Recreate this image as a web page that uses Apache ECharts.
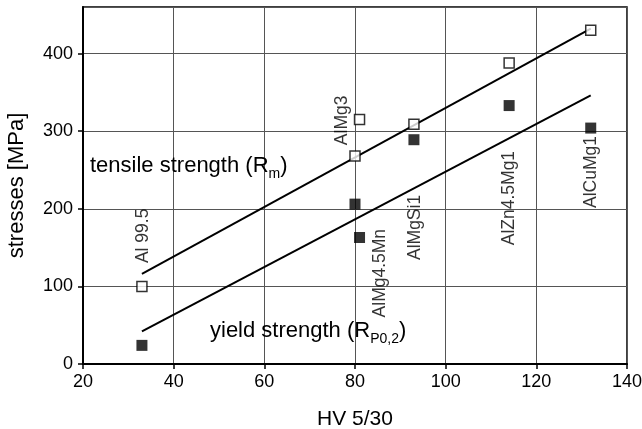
<!DOCTYPE html>
<html>
<head>
<meta charset="utf-8">
<script src="https://cdn.jsdelivr.net/npm/echarts@6/dist/echarts.min.js"></script>
<style>
  html, body { margin: 0; padding: 0; background: #fff; }
  #chart { width: 642px; height: 429px; }
</style>
</head>
<body>
<div id="chart"></div>
<script>
// Hardness HV 5/30 vs. strength of aluminium alloys
const tensilePoints = [[33, 100], [80, 268], [81, 315], [93, 309], [114, 388], [132, 430]];
const yieldPoints   = [[33, 24], [80, 206], [81, 163], [93, 289], [114, 333], [132, 304]];
// Linear fit lines (end points)
const tensileFit = [[33, 116], [132, 432]];
const yieldFit   = [[33, 42], [132, 346]];
// Alloy names and where their vertical labels start
const alloyNames  = ['Al 99.5', 'AlMg3', 'AlMg4.5Mn', 'AlMgSi1', 'AlZn4.5Mg1', 'AlCuMg1'];
const alloyAnchor = [[33.2, 130], [77.2, 282], [85.6, 60], [93.3, 134], [114.0, 153], [132.1, 201]];
const xTicks = [20, 40, 60, 80, 100, 120, 140];
const yTicks = [0, 100, 200, 300, 400];

const FONT = '"Liberation Sans", Arial, Helvetica, sans-serif';
const chart = echarts.init(document.getElementById('chart'), null, { renderer: 'canvas' });

const option = {
  backgroundColor: '#fff',
  animation: false,
  grid: {
    left: 83, right: 15, top: 7, bottom: 65,
    outerBoundsMode: 'none', containLabel: false,
    show: true, borderColor: '#000', borderWidth: 1.5
  },
  xAxis: {
    type: 'value', min: xTicks[0], max: xTicks[xTicks.length - 1], interval: 20,
    name: 'HV 5/30', nameLocation: 'middle', nameGap: 45,
    nameTextStyle: { fontFamily: FONT, fontSize: 21, color: '#000' },
    axisLine: { show: true, lineStyle: { color: '#000', width: 2 } },
    axisTick: { show: true, inside: false, length: 5, lineStyle: { color: '#000', width: 1.5 } },
    axisLabel: { fontFamily: FONT, fontSize: 18, color: '#000', margin: 9 },
    splitLine: { show: true, lineStyle: { color: '#555', width: 1 } }
  },
  yAxis: {
    type: 'value', min: yTicks[0], max: 460, interval: 100,
    name: 'stresses [MPa]', nameLocation: 'middle', nameGap: 55,
    nameTextStyle: { fontFamily: FONT, fontSize: 22, color: '#000' },
    axisLine: { show: true, lineStyle: { color: '#000', width: 2 } },
    axisTick: { show: true, inside: false, length: 5, lineStyle: { color: '#000', width: 1.5 } },
    axisLabel: { fontFamily: FONT, fontSize: 18, color: '#000', margin: 10, showMaxLabel: false },
    splitLine: { show: true, lineStyle: { color: '#555', width: 1 } }
  },
  series: [
    {
      type: 'line', data: tensileFit, symbol: 'none',
      lineStyle: { color: '#000', width: 2 }, z: 3
    },
    {
      type: 'line', data: yieldFit, symbol: 'none',
      lineStyle: { color: '#000', width: 2 }, z: 3
    },
    {
      name: 'tensile strength', type: 'scatter', data: tensilePoints,
      symbol: 'rect', symbolSize: 10,
      itemStyle: { color: '#fff', borderColor: '#000', borderWidth: 1.5 }, z: 4
    },
    {
      name: 'yield strength', type: 'scatter', data: yieldPoints,
      symbol: 'rect', symbolSize: 11,
      itemStyle: { color: '#000' }, z: 4
    },
    {
      type: 'scatter', symbolSize: 0, silent: true, z: 5,
      data: alloyAnchor.map((p, i) => ({ value: p, name: alloyNames[i] })),
      label: {
        show: true, position: 'inside', rotate: 90, align: 'left', verticalAlign: 'middle',
        formatter: p => p.name, fontFamily: FONT, fontSize: 17.5, color: '#000'
      }
    }
  ],
  graphic: [
    {
      type: 'text', left: 90, top: 155, z: 10,
      style: {
        text: '{a|tensile strength (R}{s|m}{a|)}',
        rich: {
          a: { fontFamily: FONT, fontSize: 22, color: '#000', verticalAlign: 'bottom', lineHeight: 26 },
          s: { fontFamily: FONT, fontSize: 14, color: '#000', verticalAlign: 'bottom', lineHeight: 15, padding: [0, 0, -4, 0] }
        }
      }
    },
    {
      type: 'text', left: 210, top: 320, z: 10,
      style: {
        text: '{a|yield strength (R}{s|P0,2}{a|)}',
        rich: {
          a: { fontFamily: FONT, fontSize: 22, color: '#000', verticalAlign: 'bottom', lineHeight: 26 },
          s: { fontFamily: FONT, fontSize: 14, color: '#000', verticalAlign: 'bottom', lineHeight: 15, padding: [0, 0, -4, 0] }
        }
      }
    }
  ]
};
chart.setOption(option);
</script>
</body>
</html>
